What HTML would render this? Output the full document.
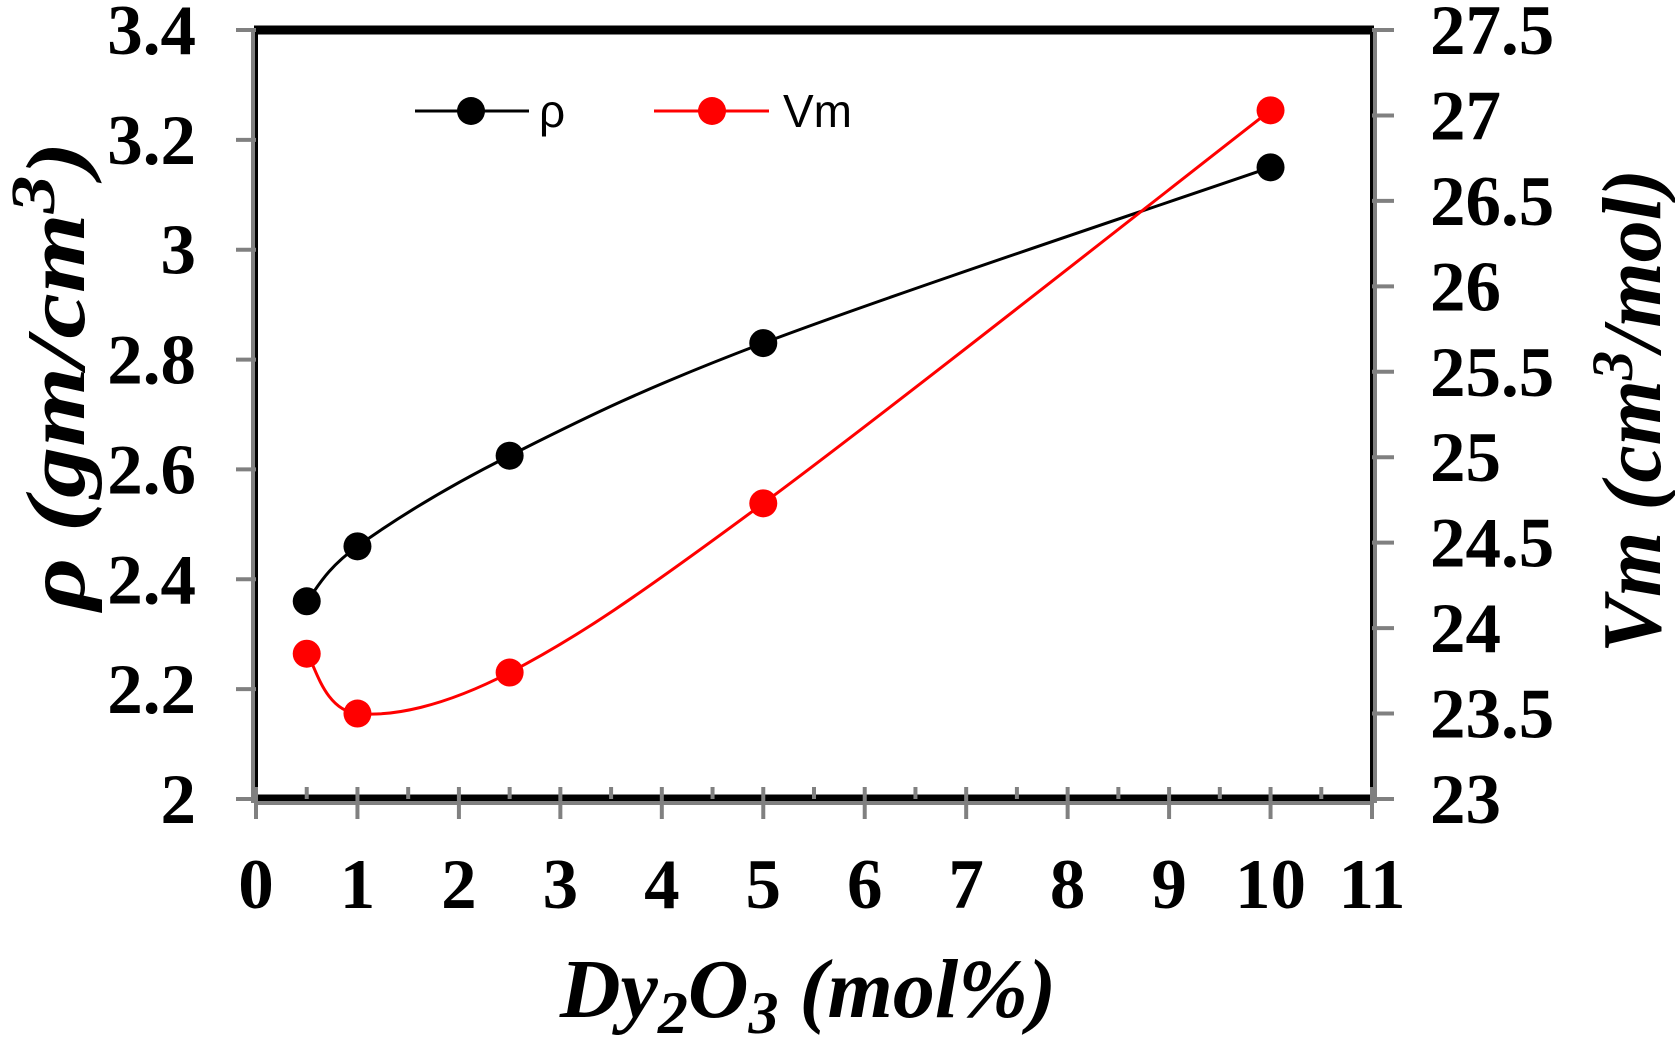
<!DOCTYPE html>
<html><head><meta charset="utf-8"><style>
html,body{margin:0;padding:0;background:#fff;}
svg{display:block;}
.tk{font-family:"Liberation Serif",serif;font-weight:bold;font-size:71px;fill:#000;}
.ttl{font-family:"Liberation Serif",serif;font-weight:bold;font-style:italic;font-size:84px;fill:#000;}
.lg{font-family:"Liberation Sans",sans-serif;font-size:46px;fill:#000;}
</style></head><body>
<svg id="chart" width="1675" height="1043" viewBox="0 0 1675 1043"></svg>
<script>
const xValues=[0.5,1,2.5,5,10];
const rhoValues=[2.36,2.46,2.625,2.83,3.15];
const vmValues=[23.85,23.5,23.74,24.73,27.03];
const xTicks=[0,1,2,3,4,5,6,7,8,9,10,11];
const yLeftTicks=[2,2.2,2.4,2.6,2.8,3,3.2,3.4];
const yRightTicks=[23,23.5,24,24.5,25,25.5,26,26.5,27,27.5];

const NS="http://www.w3.org/2000/svg";
const svg=document.getElementById('chart');
const X0=256,X1=1372,YT=30,YB=799;
const sx=v=>X0+(v-0)/(11-0)*(X1-X0);
const syL=v=>YB-(v-2)/(3.4-2)*(YB-YT);
const syR=v=>YB-(v-23)/(27.5-23)*(YB-YT);
function mk(tag,attrs,parent){const e=document.createElementNS(NS,tag);for(const k in attrs)e.setAttribute(k,attrs[k]);(parent||svg).appendChild(e);return e;}

const frame=mk('g',{});


mk('rect',{x:X0,y:YT,width:X1-X0,height:YB-YT,fill:'none',stroke:'#000','stroke-width':4},frame);
mk('line',{x1:X0-2,y1:YT,x2:X1+2,y2:YT,stroke:'#000','stroke-width':9},frame);
mk('line',{x1:X0-2,y1:YB,x2:X1+2,y2:YB,stroke:'#000','stroke-width':9},frame);

const xa=mk('g',{});


mk('line',{x1:X0,y1:YB+4,x2:X1,y2:YB+4,stroke:'#808080','stroke-width':4},xa);
xTicks.forEach(t=>{
  mk('line',{x1:sx(t),y1:YB-12,x2:sx(t),y2:YB+20,stroke:'#808080','stroke-width':4},xa);
  if(t<11) mk('line',{x1:sx(t+0.5),y1:YB-12,x2:sx(t+0.5),y2:YB,stroke:'#808080','stroke-width':4},xa);
  const tx=mk('text',{x:sx(t),y:908,'text-anchor':'middle',class:'tk'},xa);
  tx.textContent=t;
  
  
});
const yl=mk('g',{});


mk('line',{x1:X0-3,y1:YT,x2:X0-3,y2:YB+4,stroke:'#808080','stroke-width':4},yl);
yLeftTicks.forEach(t=>{
  mk('line',{x1:X0-20,y1:syL(t),x2:X0,y2:syL(t),stroke:'#808080','stroke-width':4},yl);
  const tx=mk('text',{x:196,y:syL(t)+24,'text-anchor':'end',class:'tk'},yl);
  tx.textContent=t.toFixed(t===2||t===3?0:1);
  
  
});
const yr=mk('g',{});


mk('line',{x1:X1+3,y1:YT,x2:X1+3,y2:YB+4,stroke:'#808080','stroke-width':4},yr);
yRightTicks.forEach(t=>{
  mk('line',{x1:X1,y1:syR(t),x2:X1+22,y2:syR(t),stroke:'#808080','stroke-width':4},yr);
  const tx=mk('text',{x:1430,y:syR(t)+24,'text-anchor':'start',class:'tk'},yr);
  tx.textContent=String(t);
  
  
});

const xt=mk('text',{x:808,y:1017,'text-anchor':'middle',class:'ttl'});
xt.innerHTML='Dy<tspan dy="16" font-size="60">2</tspan><tspan dy="-16">O</tspan><tspan dy="16" font-size="60">3</tspan><tspan dy="-16"> (mol%)</tspan>';


const ylt=mk('text',{x:0,y:0,'text-anchor':'middle',class:'ttl','font-size':'100',transform:'translate(84,376) rotate(-90) scale(1.22,1)'});
ylt.innerHTML='ρ (gm/cm<tspan dy="-30" font-size="62">3</tspan><tspan dy="30">)</tspan>';


const yrt=mk('text',{x:0,y:0,'text-anchor':'middle',class:'ttl','font-size':'90',transform:'translate(1660,411) rotate(-90)'});
yrt.innerHTML='Vm (cm<tspan dy="-28" font-size="58">3</tspan><tspan dy="28">/mol)</tspan>';



function smooth(pts){
  let d=`M${pts[0][0]},${pts[0][1]}`;
  for(let i=0;i<pts.length-1;i++){
    const p0=pts[i-1]||pts[i],p1=pts[i],p2=pts[i+1],p3=pts[i+2]||p2;
    const c1=[p1[0]+(p2[0]-p0[0])/6,p1[1]+(p2[1]-p0[1])/6];
    const c2=[p2[0]-(p3[0]-p1[0])/6,p2[1]-(p3[1]-p1[1])/6];
    d+=` C${c1[0]},${c1[1]} ${c2[0]},${c2[1]} ${p2[0]},${p2[1]}`;
  }
  return d;
}
function series(vals,sy,color,name){
  const g=mk('g',{});
  
  
  const pts=xValues.map((x,i)=>[sx(x),sy(vals[i])]);
  const p=mk('path',{d:smooth(pts),fill:'none',stroke:color,'stroke-width':3},g);
  
  
  pts.forEach(pt=>{
    const c=mk('circle',{cx:pt[0],cy:pt[1],r:14,fill:color},g);
    
    
  });
}
series(rhoValues,syL,'#000','rho');
series(vmValues,syR,'#ff0000','vm');

const lg=mk('g',{});


mk('line',{x1:415,y1:111,x2:529,y2:111,stroke:'#000','stroke-width':3},lg);
mk('circle',{cx:471,cy:111,r:14,fill:'#000'},lg);
const l1=mk('text',{x:539,y:127,class:'lg'},lg);l1.textContent='ρ';


mk('line',{x1:654,y1:111,x2:769,y2:111,stroke:'#ff0000','stroke-width':3},lg);
mk('circle',{cx:712,cy:111,r:14,fill:'#ff0000'},lg);
const l2=mk('text',{x:783,y:127,class:'lg'},lg);l2.textContent='Vm';


</script>
</body></html>
